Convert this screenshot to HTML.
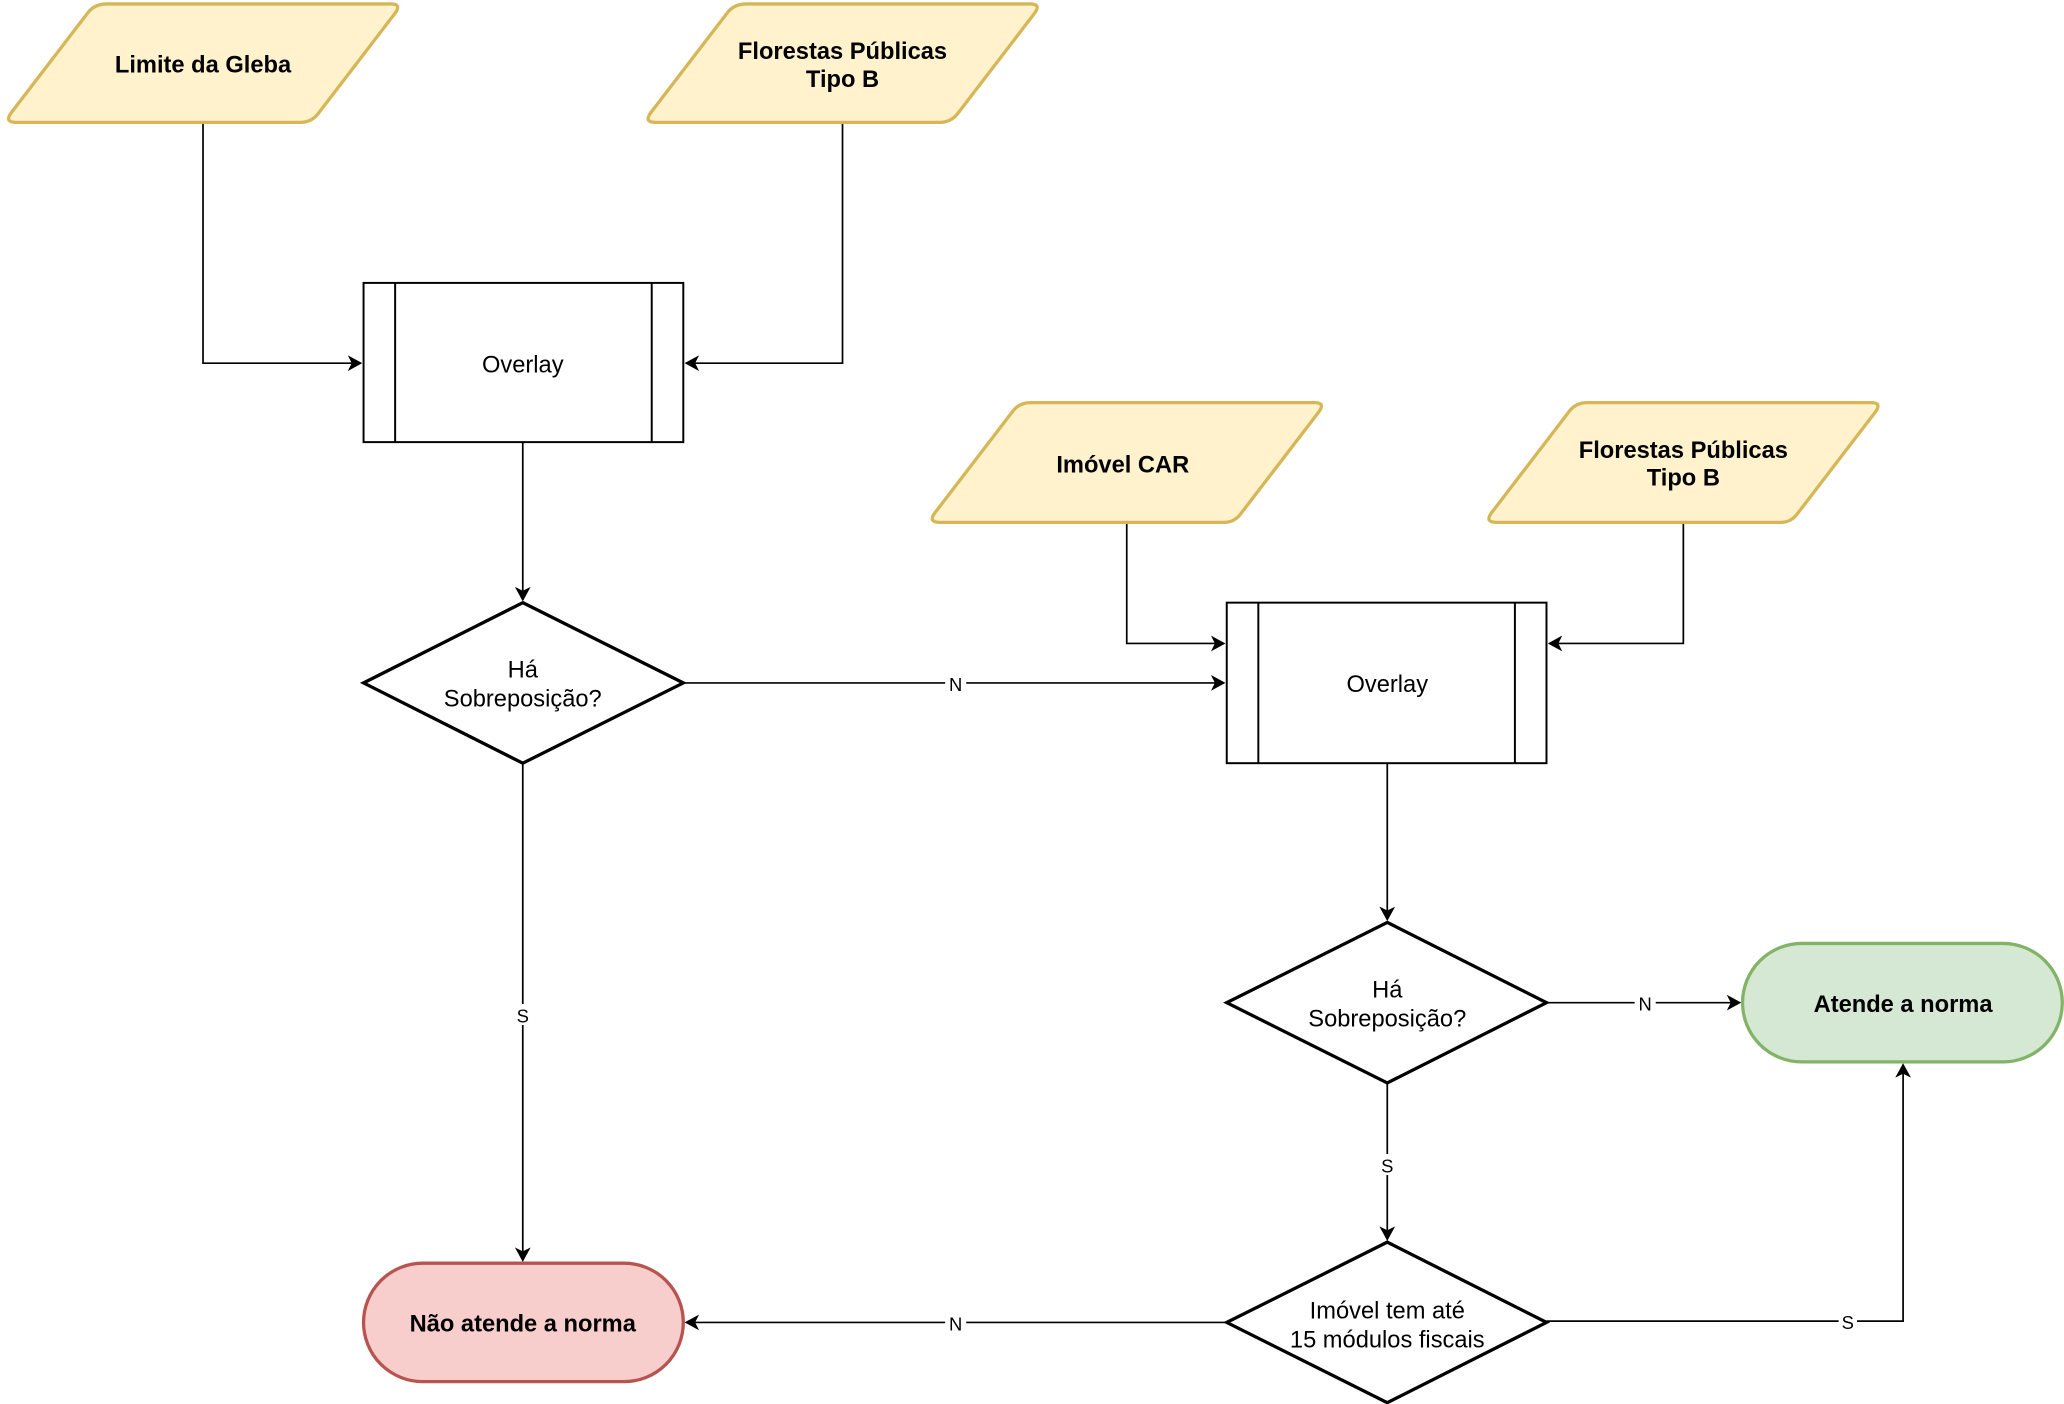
<!DOCTYPE html>
<html><head><meta charset="utf-8"><style>
html,body{margin:0;padding:0;background:#fff;}
svg{display:block;}
text{font-family:"Liberation Sans","DejaVu Sans",sans-serif;}
.b{font-weight:bold;font-size:18px;}
.r{font-size:18px;}
.l{font-size:14px;}
</style></head><body>
<svg width="2064" height="1404" viewBox="0 0 1568 1067" xmlns="http://www.w3.org/2000/svg">
<defs>
<marker id="a" markerWidth="12" markerHeight="12" refX="10" refY="6" orient="auto" markerUnits="userSpaceOnUse">
<path d="M0,0 L11,6 L0,12 L3,6 Z" fill="#000"/>
</marker>
</defs>
<g fill="none" stroke="#000" stroke-width="1.3">
<path d="M154,93 V276 H274" marker-end="url(#a)"/>
<path d="M640,93 V276 H521" marker-end="url(#a)"/>
<path d="M397,336 V456" marker-end="url(#a)"/>
<path d="M519,519 H930" marker-end="url(#a)"/>
<path d="M397,580 V958" marker-end="url(#a)"/>
<path d="M856,397 V489 H930" marker-end="url(#a)"/>
<path d="M1279,397 V489 H1177" marker-end="url(#a)"/>
<path d="M1054,580 V699" marker-end="url(#a)"/>
<path d="M1175,762 H1322" marker-end="url(#a)"/>
<path d="M1054,823 V942" marker-end="url(#a)"/>
<path d="M932,1005 H521" marker-end="url(#a)"/>
<path d="M1175,1004 H1446 V809" marker-end="url(#a)"/>
</g>
<g class="l" text-anchor="middle">
<rect x="718" y="511" width="16" height="16" fill="#fff"/><text x="726" y="525">N</text>
<rect x="390" y="763" width="14" height="16" fill="#fff"/><text x="397" y="777">S</text>
<rect x="1242" y="754" width="16" height="16" fill="#fff"/><text x="1250" y="768">N</text>
<rect x="1047" y="877" width="14" height="16" fill="#fff"/><text x="1054" y="891">S</text>
<rect x="718" y="997" width="16" height="16" fill="#fff"/><text x="726" y="1011">N</text>
<rect x="1397" y="996" width="14" height="16" fill="#fff"/><text x="1404" y="1010">S</text>
</g>
<g fill="#fff2cc" stroke="#d6b656" stroke-width="2.5" stroke-linejoin="round">
<path d="M81,3 H297 Q305,3 300,10 L241,87 Q236,93 228,93 H12 Q3,93 8,86 L67,9 Q72,3 81,3 Z"/>
<path d="M567,3 H783 Q791,3 786,10 L727,87 Q722,93 714,93 H498 Q489,93 494,86 L553,9 Q558,3 567,3 Z"/>
<path d="M783,306 H999 Q1007,306 1002,313 L943,390 Q938,397 930,397 H714 Q705,397 710,390 L769,313 Q774,306 783,306 Z"/>
<path d="M1206,306 H1422 Q1430,306 1425,313 L1366,390 Q1361,397 1353,397 H1137 Q1128,397 1133,390 L1192,313 Q1197,306 1206,306 Z"/>
</g>
<g fill="#fff" stroke="#000" stroke-width="1.5">
<rect x="276" y="215" width="243" height="121"/>
<line x1="300" y1="215" x2="300" y2="336"/><line x1="495" y1="215" x2="495" y2="336"/>
<rect x="932" y="458" width="243" height="122"/>
<line x1="956" y1="458" x2="956" y2="580"/><line x1="1151" y1="458" x2="1151" y2="580"/>
</g>
<g fill="#fff" stroke="#000" stroke-width="2.5">
<path d="M397,458 L519,519 L397,580 L276,519 Z"/>
<path d="M1054,701 L1175,762 L1054,823 L932,762 Z"/>
<path d="M1054,944 L1175,1005 L1054,1066 L932,1005 Z"/>
</g>
<rect x="1324" y="717" width="243" height="90" rx="45" fill="#d5e8d4" stroke="#82b366" stroke-width="2.5"/>
<rect x="276" y="960" width="243" height="90" rx="45" fill="#f8cecc" stroke="#b85450" stroke-width="2.5"/>
<g class="b" text-anchor="middle">
<text x="154" y="55">Limite da Gleba</text>
<text x="640" y="45">Florestas Públicas</text><text x="640" y="66">Tipo B</text>
<text x="853" y="359">Imóvel CAR</text>
<text x="1279" y="348">Florestas Públicas</text><text x="1279" y="369">Tipo B</text>
<text x="1446" y="769">Atende a norma</text>
<text x="397" y="1012">Não atende a norma</text>
</g>
<g class="r" text-anchor="middle">
<text x="397" y="283">Overlay</text>
<text x="1054" y="526">Overlay</text>
<text x="397" y="515">Há</text><text x="397" y="537">Sobreposição?</text>
<text x="1054" y="758">Há</text><text x="1054" y="780">Sobreposição?</text>
<text x="1054" y="1002">Imóvel tem até</text><text x="1054" y="1024">15 módulos fiscais</text>
</g>
</svg>
</body></html>
